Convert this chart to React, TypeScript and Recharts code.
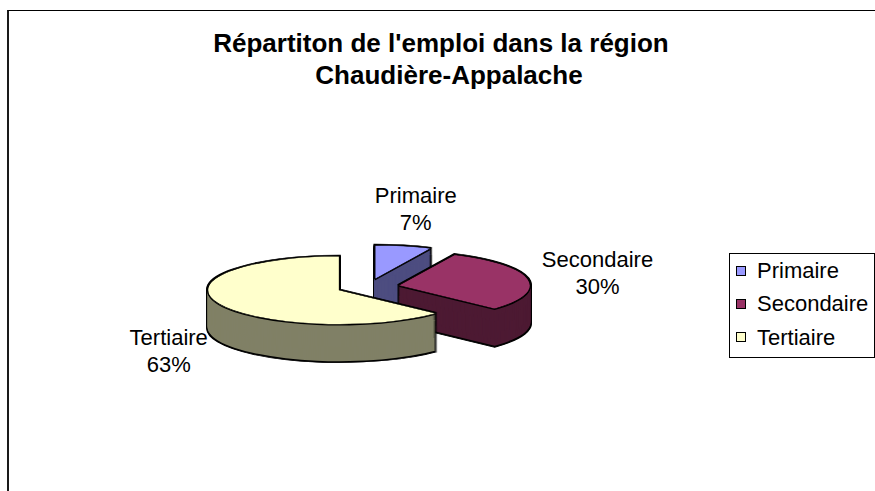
import React from 'react';
import { PieChart, Pie, Cell, Legend } from 'recharts';

// chart data
const categories = ['Primaire', 'Secondaire', 'Tertiaire'];
const shares = [7, 30, 63];
const topColors = ['#9999FF', '#993366', '#FFFFCC'];
const sideColors = ['#4D4D80', '#4D1A33', '#808066'];
const titleLines = ["Répartiton de l'emploi dans la région", 'Chaudière-Appalache'];

const data = categories.map((name, i) => ({ name, value: shares[i] }));

const W = 875;
const H = 491;
const CX = 368; // centre of the (un-exploded) pie on screen
const CY = 287;
const R = 132; // horizontal radius
const RY = 34; // vertical radius on screen (tilted pie)
const K = RY / R; // squash factor
const HU = Math.ceil(H / K); // height of the unsquashed drawing
const DEPTH = 37; // thickness of the pie on screen
const EXPLODE = 31;
const STEP = 1;
const LABEL_RX = 178;
const LABEL_RY = 58;
const FONT = '"Liberation Sans", Arial, Helvetica, sans-serif';
const zero = { top: 0, right: 0, bottom: 0, left: 0 };

const total = shares.reduce((a, b) => a + b, 0);
const midTurn = (i: number) =>
  ((shares.slice(0, i).reduce((a, b) => a + b, 0) + shares[i] / 2) / total) * 2 * Math.PI;

type Layer = { slice: number; dz: number; kind: 'edge' | 'side' | 'rim' | 'top' };

// each slice is built as a stack of pies: black outline, dark wall, rim line, top face
const layers: Layer[] = [];
categories.forEach((_, i) => {
  const edgeFrom = DEPTH + 1.5;
  const edgeTo = -1.2;
  const ne = Math.ceil((edgeFrom - edgeTo) / STEP);
  for (let j = 0; j <= ne; j++) {
    layers.push({ slice: i, dz: edgeFrom - (j * (edgeFrom - edgeTo)) / ne, kind: 'edge' });
  }
  const sideFrom = DEPTH;
  const sideTo = 1.5;
  const ns = Math.ceil((sideFrom - sideTo) / STEP);
  for (let j = 0; j <= ns; j++) {
    layers.push({ slice: i, dz: sideFrom - (j * (sideFrom - sideTo)) / ns, kind: 'side' });
  }
  layers.push({ slice: i, dz: 1.3, kind: 'rim' });
  layers.push({ slice: i, dz: 0, kind: 'top' });
});

let ctx: CanvasRenderingContext2D | null = null;
const textWidth = (s: string) => {
  if (!ctx) ctx = document.createElement('canvas').getContext('2d');
  if (!ctx) return s.length * 11;
  ctx.font = `22px ${FONT}`;
  return ctx.measureText(s).width;
};

const renderLabel = (p: any) => {
  const a = (p.midAngle * Math.PI) / 180;
  const ux = Math.cos(a);
  const uy = -Math.sin(a);
  const name = String(p.payload?.name ?? p.name);
  const pct = `${Math.round(p.percent * 100)}%`;
  const halfW = Math.max(textWidth(name), textWidth(pct)) / 2;
  const x = p.cx + ux * (LABEL_RX + halfW);
  const y = p.cy + uy * (LABEL_RY + 22) + (uy > 0 ? DEPTH * 0.86 : 0);
  return (
    <g>
      <text x={x} y={y - 5.5} textAnchor="middle" fill="#000" fontFamily={FONT} fontSize={22}>
        {name}
      </text>
      <text x={x} y={y + 21.5} textAnchor="middle" fill="#000" fontFamily={FONT} fontSize={22}>
        {pct}
      </text>
    </g>
  );
};

const renderLegend = () => (
  <div
    style={{
      border: '1px solid #000',
      background: '#fff',
      boxSizing: 'border-box',
      width: 146,
      height: 105,
      fontFamily: FONT,
      fontSize: 22,
      color: '#000',
    }}
  >
    {categories.map((c, i) => (
      <div key={c} style={{ display: 'flex', alignItems: 'center', height: 33.3, lineHeight: '33.3px', whiteSpace: 'nowrap' }}>
        <span
          style={{
            display: 'inline-block',
            width: 10,
            height: 10,
            boxSizing: 'border-box',
            border: '1px solid #000',
            background: topColors[i],
            marginLeft: 6,
            marginRight: 11,
          }}
        />
        <span>{c}</span>
      </div>
    ))}
  </div>
);

export default function App() {
  return (
    <div style={{ position: 'absolute', left: 0, top: 0, width: W, height: H, overflow: 'hidden', background: '#fff' }}>
      {/* chart area frame */}
      <div
        style={{
          position: 'absolute',
          left: 7,
          top: 10,
          width: 1000,
          height: 1000,
          borderLeft: '2px solid #1a1a1a',
          borderTop: '1px solid #000',
        }}
      />

      <svg width={W} height={110} style={{ position: 'absolute', left: 0, top: 0 }}>
        <text x={441} y={52} textAnchor="middle" fontFamily={FONT} fontWeight="bold" fontSize={26} fill="#000">
          {titleLines[0]}
        </text>
        <text x={449} y={83.5} textAnchor="middle" fontFamily={FONT} fontWeight="bold" fontSize={26} fill="#000">
          {titleLines[1]}
        </text>
      </svg>

      {/* 3D pie: drawn unsquashed, then squashed vertically */}
      <div
        style={{
          position: 'absolute',
          left: 0,
          top: 0,
          width: W,
          height: HU,
          transform: `scaleY(${K})`,
          transformOrigin: '0 0',
        }}
      >
        <PieChart width={W} height={HU} margin={zero}>
          {layers.map((l, idx) => {
            const a = midTurn(l.slice);
            const cx = CX + EXPLODE * Math.sin(a);
            const cy = CY / K - EXPLODE * Math.cos(a) + l.dz / K;
            return (
              <Pie
                key={idx}
                data={data}
                dataKey="value"
                nameKey="name"
                cx={cx}
                cy={cy}
                innerRadius={0}
                outerRadius={R}
                startAngle={90}
                endAngle={-270}
                stroke="none"
                isAnimationActive={false}
              >
                {data.map((d, j) => {
                  if (j !== l.slice) return <Cell key={d.name} fill="transparent" stroke="none" />;
                  if (l.kind === 'edge') return <Cell key={d.name} fill="#000" stroke="#000" strokeWidth={2.6} />;
                  if (l.kind === 'side') return <Cell key={d.name} fill={sideColors[j]} stroke="none" />;
                  if (l.kind === 'rim') return <Cell key={d.name} fill="#000" stroke="none" />;
                  return <Cell key={d.name} fill={topColors[j]} stroke="#000" strokeWidth={1.4} />;
                })}
              </Pie>
            );
          })}
        </PieChart>
      </div>

      {/* labels and legend */}
      <div style={{ position: 'absolute', left: 0, top: 0, width: W, height: H }}>
        <PieChart width={W} height={H} margin={zero}>
          <Pie
            data={data}
            dataKey="value"
            nameKey="name"
            cx={CX}
            cy={CY}
            outerRadius={R}
            startAngle={90}
            endAngle={-270}
            fill="transparent"
            stroke="none"
            label={renderLabel}
            labelLine={false}
            isAnimationActive={false}
          >
            {data.map((d) => (
              <Cell key={d.name} fill="transparent" stroke="none" />
            ))}
          </Pie>
          <Legend
            layout="vertical"
            align="right"
            verticalAlign="top"
            content={renderLegend}
            wrapperStyle={{ left: 729, top: 253, right: 'auto', width: 146, height: 105 }}
          />
        </PieChart>
      </div>
    </div>
  );
}
